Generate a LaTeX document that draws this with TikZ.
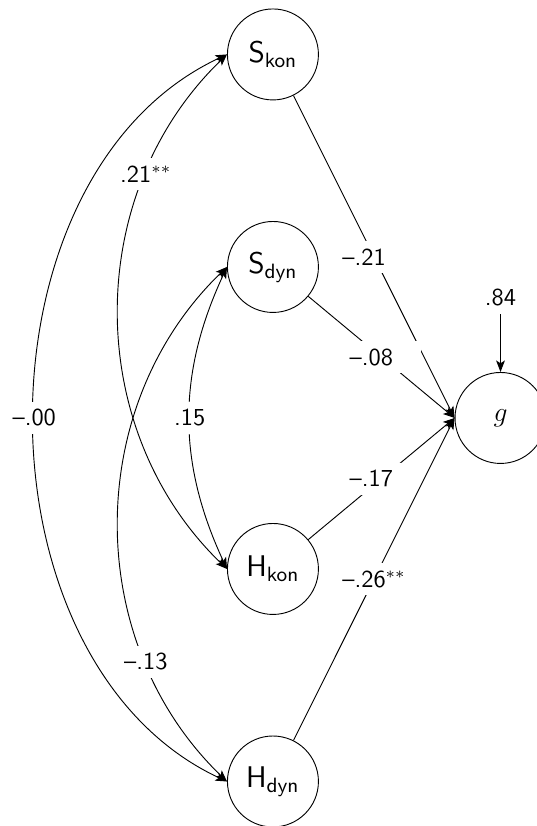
\documentclass[tikz,border=0pt]{standalone}
\usepackage{tikz}
\usetikzlibrary{arrows.meta}

\begin{document}
\begin{tikzpicture}[font=\sffamily\fontsize{10.6}{12.7}\selectfont,>={Stealth[length=5pt,width=3.8pt,inset=1.2pt]}]

\tikzset{
  latent/.style={draw,circle,minimum size=1.39cm,inner sep=0pt,font=\sffamily\fontsize{13}{15.6}\selectfont},
  coef/.style={fill=white}
}

% fixed frame
\useasboundingbox (0,0) rectangle (8.19,12.62);

% === Predictors (one column) ===
\def\colX{4.17}
\node[latent] (Skon) at (\colX,11.788) {S$_{\mathsf{kon}}$};
\node[latent] (Sdyn) at (\colX,8.541) {S$_{\mathsf{dyn}}$};
\node[latent] (Hkon) at (\colX,3.927) {H$_{\mathsf{kon}}$};
\node[latent] (Hdyn) at (\colX,0.680) {H$_{\mathsf{dyn}}$};

% === Criterion g with residual ===
\def\gX{7.647}
\node[latent] (g) at (\gX,6.234) {$g$};
\node (res) at (\gX,8.07) {.84};
\draw[->] (res) -- (g);

% === Paths to g ===
\draw[->] (Skon) -- node[coef] {--.21\phantom{$^{**}$}} (g.west);
\draw[->] (Sdyn) -- node[coef] {--.08\phantom{$^{**}$}} (g.west);
\draw[->] (Hkon) -- node[coef] {--.17\phantom{$^{**}$}} (g.west);
\draw[->] (Hdyn) -- node[coef] {--.26$^{**}$} (g.west);

% === Correlations between predictors ===
\draw[<->] (Skon.west) to[bend right=65] node[coef] {--.00} (Hdyn.west);
\draw[<->] (Skon.west) to[bend right=46] node[coef,pos=0.25] {.21$^{**}$} (Hkon.west);
\draw[<->] (Sdyn.west) to[bend right=46] node[coef,pos=0.75] {--.13} (Hdyn.west);
\draw[<->] (Sdyn.west) to[bend right=25] node[coef] {.15} (Hkon.west);

\end{tikzpicture}
\end{document}
